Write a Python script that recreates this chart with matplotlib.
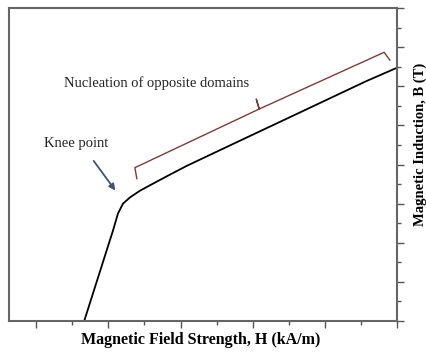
import numpy as np
import matplotlib.pyplot as plt
from matplotlib.ticker import MultipleLocator, NullFormatter

# B-H curve (arbitrary units)
H = [0.666, 1.066, 1.134, 1.203, 1.30, 1.437, 1.617, 1.851, 2.09, 2.72, 3.64, 4.57, 4.98]
B = [0.0, 2.32, 2.75, 3.00, 3.16, 3.33, 3.51, 3.74, 3.97, 4.52, 5.32, 6.13, 6.46]

# brace over the linear part
brace_H = [1.395, 1.368, 3.09, 3.05, 3.09, 4.82, 4.90]
brace_B = [3.64, 3.92, 5.42, 5.67, 5.42, 6.87, 6.67]

plt.rcParams['font.family'] = ['Liberation Serif', 'DejaVu Serif']

fig = plt.figure(figsize=(4.27, 3.52), dpi=100)
ax = fig.add_axes([0.022, 0.088, 0.908, 0.889])

ax.plot(H, B, color='black', lw=1.3)
ax.plot(brace_H, brace_B, color='#7b3b3b', lw=1.0)

ax.text(1.67, 6.08, 'Nucleation of opposite domains', fontsize=10.5,
        ha='center', va='center', color='#222222')
ax.text(0.555, 4.53, 'Knee point', fontsize=10.5, ha='center', va='center',
        color='#222222')
ax.annotate('', xy=(1.12, 3.28), xytext=(0.775, 4.15),
            arrowprops=dict(arrowstyle='-|>', color='#3d5472', lw=1.3,
                            mutation_scale=9))

ax.set_xlim(-0.37, 5)
ax.set_ylim(0, 8)

ax.xaxis.set_major_locator(MultipleLocator(1))
ax.xaxis.set_minor_locator(MultipleLocator(0.5))
ax.yaxis.set_major_locator(MultipleLocator(1))
ax.yaxis.set_minor_locator(MultipleLocator(0.5))
ax.xaxis.set_major_formatter(NullFormatter())
ax.yaxis.set_major_formatter(NullFormatter())
ax.yaxis.tick_right()
ax.tick_params(which='major', direction='out', length=5, width=1, color='#555555')
ax.tick_params(which='minor', direction='out', length=3, width=1, color='#555555')

for s in ax.spines.values():
    s.set_color('#666666')
    s.set_linewidth(1.5)

fig.text(201 / 427, 1 - 340 / 352, 'Magnetic Field Strength, H (kA/m)',
         fontsize=11.5, fontweight='bold', ha='center', va='center')
fig.text(420 / 427, 1 - 144 / 352, 'Magnetic Induction, B (T)',
         fontsize=10.5, fontweight='bold', ha='center', va='center', rotation=90)

fig.savefig('out.png', dpi=100)
